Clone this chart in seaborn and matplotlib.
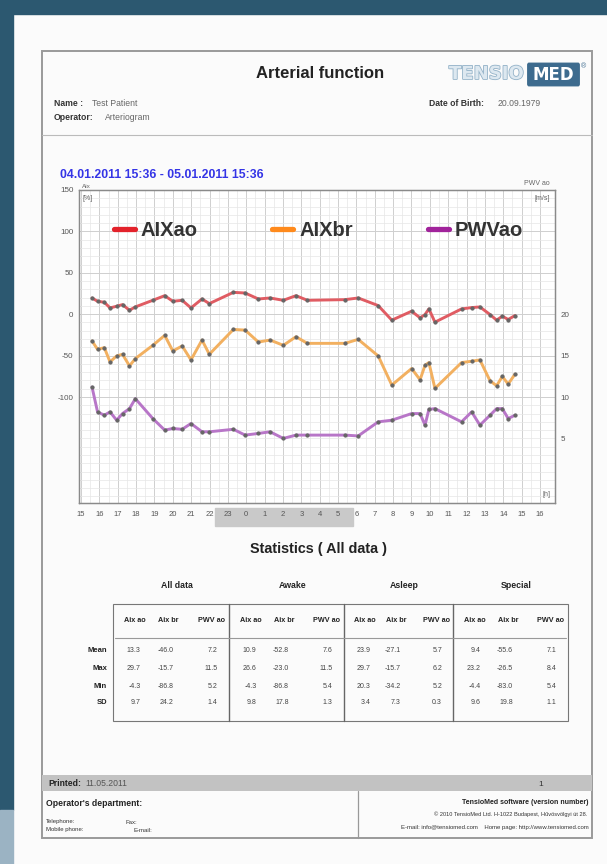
import matplotlib
matplotlib.use("Agg")
import matplotlib.pyplot as plt
import matplotlib.patheffects as pe
import seaborn as sns
import pandas as pd
from matplotlib.patches import Rectangle, FancyBboxPatch
from matplotlib.lines import Line2D

# measurement times (hours from midnight of 04.01.2011)
hours = [15.60, 15.90, 16.27, 16.58, 16.94, 17.26, 17.64, 17.96, 18.91, 19.56,
         20.00, 20.51, 20.99, 21.59, 21.99, 23.30, 23.94, 24.66, 25.30, 26.02,
         26.71, 27.33, 29.38, 30.10, 31.19, 31.93, 33.01, 33.47, 33.74, 33.95,
         34.28, 35.73, 36.28, 36.73, 37.28, 37.64, 37.95, 38.27, 38.64]
aix_ao = [19.6, 15.6, 14.4, 7.6, 9.6, 11.6, 4.8, 8.8, 16.8, 22.4,
          15.6, 16.8, 7.6, 18.4, 12.8, 26.4, 25.6, 18.4, 19.6, 16.8,
          22.4, 16.8, 17.6, 19.6, 10.4, -7.2, 3.6, -4.4, -0.4, 6.4,
          -9.6, 6.4, 8.0, 8.8, -0.4, -7.2, -2.4, -6.4, -1.6]
aix_br = [-32.4, -42.4, -40.4, -57.6, -50.4, -48.4, -62.4, -53.6, -37.6, -25.6,
          -44.4, -38.4, -55.2, -31.2, -48.4, -18.4, -19.2, -33.6, -31.2, -37.6,
          -27.2, -35.2, -35.2, -30.4, -50.4, -85.6, -65.6, -79.2, -61.6, -58.4,
          -89.6, -58.4, -56.8, -55.2, -80.4, -86.4, -75.2, -84.4, -72.4]
pwv_ao = [11.2, 8.2, 7.8, 8.2, 7.2, 8.0, 8.6, 9.8, 7.4, 6.0,
          6.2, 6.1, 6.8, 5.8, 5.8, 6.1, 5.4, 5.6, 5.8, 5.0,
          5.4, 5.4, 5.4, 5.3, 7.0, 7.2, 8.0, 8.0, 6.6, 8.5,
          8.6, 7.0, 8.2, 6.6, 7.8, 8.6, 8.6, 7.4, 7.8]
hour_ticks = list(range(15, 41))
night = (22.3, 29.8)

stat_groups = ["All data", "Awake", "Asleep", "Special"]
stat_cols = ["Aix ao", "Aix br", "PWV ao"]
stat_rows = ["Mean", "Max", "Min", "SD"]
stats_all = [[13.3, -46.0, 7.2], [29.7, -15.7, 11.5], [-4.3, -86.8, 5.2], [9.7, 24.2, 1.4]]
stats_awake = [[10.9, -52.8, 7.6], [26.6, -23.0, 11.5], [-4.3, -86.8, 5.4], [9.8, 17.8, 1.3]]
stats_asleep = [[23.9, -27.1, 5.7], [29.7, -15.7, 6.2], [20.3, -34.2, 5.2], [3.4, 7.3, 0.3]]
stats_special = [[9.4, -55.6, 7.1], [23.2, -26.5, 8.4], [-4.4, -83.0, 5.4], [9.6, 19.8, 1.1]]

sns.set_style("white")
plt.rcParams["font.family"] = ["Liberation Sans", "DejaVu Sans"]
plt.rcParams["axes.unicode_minus"] = False

W, H = 607, 864


def fx(px):
    return px / W


def fy(py):
    return 1 - py / H


def rect(fig, x0, y0, x1, y1, **kw):
    fig.add_artist(Rectangle((fx(x0), fy(y1)), (x1 - x0) / W, (y1 - y0) / H,
                             transform=fig.transFigure, **kw))


def hline(fig, x0, x1, y, **kw):
    fig.add_artist(Line2D([fx(x0), fx(x1)], [fy(y), fy(y)], transform=fig.transFigure, **kw))


def vline(fig, x, y0, y1, **kw):
    fig.add_artist(Line2D([fx(x), fx(x)], [fy(y0), fy(y1)], transform=fig.transFigure, **kw))


def txt(fig, x, y, s, **kw):
    kw.setdefault("va", "center")
    return fig.text(fx(x), fy(y), s, **kw)


fig = plt.figure(figsize=(W / 100, H / 100), dpi=100, facecolor="#fbfbfb")

# dark frame of the screenshot
rect(fig, 0, 0, 607, 14, color="#2c5870", zorder=0)
rect(fig, 0, 0, 13, 810, color="#2c5870", zorder=0)
rect(fig, 0, 810, 13, 864, color="#9bb3c3", zorder=0)

# page border
rect(fig, 42, 51, 592, 838, fill=False, ec="#9a9a9a", lw=1.4, zorder=1)

# header
txt(fig, 320, 74, "Arterial function", ha="center", fontsize=12, fontweight="bold", color="#222")
t = txt(fig, 449, 74, "TENSIO", ha="left", fontsize=13, fontweight="bold", color="#dde8f0",
        family="DejaVu Sans")
t.set_path_effects([pe.withStroke(linewidth=1.2, foreground="#93b2c8")])
fig.add_artist(FancyBboxPatch((fx(529), fy(84)), 49 / W, 19 / H, boxstyle="round,pad=0.002",
                              transform=fig.transFigure, color="#3d6b8e"))
txt(fig, 553.5, 74.5, "MED", ha="center", fontsize=12, fontweight="bold", color="white",
    family="DejaVu Sans")
txt(fig, 581, 67, "®", ha="left", fontsize=5, color="#3d6b8e")
txt(fig, 54, 104, "Name :", fontsize=6.2, fontweight="bold", color="#333")
txt(fig, 92, 104, "Test Patient", fontsize=6.2, color="#666")
txt(fig, 54, 118, "Operator:", fontsize=6.2, fontweight="bold", color="#333")
txt(fig, 105, 118, "Arteriogram", fontsize=6.2, color="#666")
txt(fig, 429, 104, "Date of Birth:", fontsize=6.2, fontweight="bold", color="#333")
txt(fig, 498, 104, "20.09.1979", fontsize=6.2, color="#666")
hline(fig, 42, 592, 135, color="#bbbbbb", lw=0.8)

txt(fig, 60, 175, "04.01.2011 15:36 - 05.01.2011 15:36", fontsize=8.8,
    fontweight="bold", color="#3434e6")

# chart
ax_l, ax_r, ax_t, ax_b = 79, 555, 190, 503
ax = fig.add_axes([fx(ax_l), fy(ax_b), (ax_r - ax_l) / W, (ax_b - ax_t) / H])
ylo, yhi = -228, 150
ax.set_xlim(14.89, 40.82)
ax.set_ylim(ylo, yhi)

df = pd.DataFrame({"hour": hours, "AIXao": aix_ao, "AIXbr": aix_br, "PWVao": pwv_ao})
mk = dict(marker="o", markersize=2.3, markerfacecolor="#666", markeredgecolor="#666")
sns.lineplot(data=df, x="hour", y="AIXao", ax=ax, color="#e05c63", lw=2.1, **mk)
sns.lineplot(data=df, x="hour", y="AIXbr", ax=ax, color="#f2b060", lw=2.1, **mk)

ax2 = ax.twinx()
ax2.set_ylim(20 + ylo / 10, 20 + yhi / 10)
sns.lineplot(data=df, x="hour", y="PWVao", ax=ax2, color="#b876c8", lw=2.1, **mk)
ax2.set_yticks([5, 10, 15, 20])
ax2.set_ylabel("")

ax.set_xticks(hour_ticks)
ax.set_xticklabels([str(h % 24) for h in hour_ticks])
ax.set_xticks([h + 0.5 for h in hour_ticks[:-1]], minor=True)
ax.set_yticks([-100, -50, 0, 50, 100, 150])
ax.set_yticks(range(-220, 150, 10), minor=True)
ax.grid(which="major", color="#cfcfcf", lw=0.7)
ax.grid(which="minor", color="#e6e6e6", lw=0.5)
ax.set_axisbelow(True)
ax.set_xlabel("")
ax.set_ylabel("")
for a in (ax, ax2):
    for s in a.spines.values():
        s.set_color("#8a8a8a")
        s.set_linewidth(0.9)
    a.tick_params(which="both", length=0, labelsize=5.8, colors="#555", pad=4)
ax.tick_params(axis="x", labelsize=5.5, pad=6)

# night period band behind hour labels
ax.add_patch(Rectangle((night[0], -0.075), night[1] - night[0], 0.06,
                       transform=ax.get_xaxis_transform(), color="#c9c9c9",
                       clip_on=False, zorder=0))

ax.text(0.007, 1.004, "Aix", transform=ax.transAxes, fontsize=4.6, color="#666", va="bottom")
ax.text(0.007, 0.985, "[%]", transform=ax.transAxes, fontsize=5, color="#666", va="top")
ax.text(0.99, 1.008, "PWV ao", transform=ax.transAxes, fontsize=5, color="#666",
        va="bottom", ha="right")
ax.text(0.99, 0.985, "[m/s]", transform=ax.transAxes, fontsize=5, color="#666",
        va="top", ha="right")
ax.text(0.99, 0.015, "[h]", transform=ax.transAxes, fontsize=5, color="#666",
        va="bottom", ha="right")

handles = [Line2D([], [], color=c, lw=3.8) for c in ("#e3222b", "#ff8a1c", "#a1239b")]
ax.legend(handles, ["AIXao", "AIXbr", "PWVao"], loc="center left", bbox_to_anchor=(0.0727, 0.872),
          ncol=3, prop={"size": 14.5, "weight": "bold"}, handlelength=1.05, handletextpad=0.3,
          columnspacing=3.7, frameon=False, borderaxespad=0, borderpad=0)
for tx in ax.get_legend().get_texts():
    tx.set_color("#333")

# statistics table
txt(fig, 319, 549, "Statistics ( All data )", ha="center", fontsize=10.4, fontweight="bold",
    color="#222")
seps = [113, 229, 344, 453, 568]
tt, tb = 604, 721
rect(fig, seps[0], tt, seps[-1], tb, fill=False, ec="#777", lw=0.8)
for sx in seps[1:-1]:
    vline(fig, sx, tt, tb, color="#666", lw=1.0)
hline(fig, seps[0] + 2, seps[-1] - 2, 638, color="#999", lw=0.8)
row_y = [650, 668, 686, 703]
for r, ry in zip(stat_rows, row_y):
    txt(fig, 107, ry, r, ha="right", fontsize=5.5, fontweight="bold", color="#222")
for g, block, x0, x1 in zip(stat_groups, [stats_all, stats_awake, stats_asleep, stats_special],
                            seps[:-1], seps[1:]):
    w = x1 - x0
    txt(fig, x0 + 0.55 * w, 586, g, ha="center", fontsize=6.3, fontweight="bold", color="#222")
    for c, f in zip(stat_cols, [0.19, 0.48, 0.85]):
        txt(fig, x0 + f * w, 620, c, ha="center", fontsize=5.2, fontweight="bold", color="#222")
    for row, ry in zip(block, row_y):
        for v, f in zip(row, [0.24, 0.52, 0.90]):
            txt(fig, x0 + f * w, ry, f"{v:.1f}", ha="right", fontsize=5, color="#444")

# footer
rect(fig, 42, 775, 592, 791, color="#c2c2c2", lw=0)
txt(fig, 48, 783.5, "Printed:", fontsize=6.2, fontweight="bold", color="#222")
txt(fig, 85, 783.5, "11.05.2011", fontsize=6.2, color="#555")
txt(fig, 541, 784, "1", ha="center", fontsize=6, color="#333")
vline(fig, 358, 791, 838, color="#999", lw=0.9)
txt(fig, 46, 803, "Operator's department:", fontsize=6.2, fontweight="bold", color="#222")
txt(fig, 46, 822, "Telephone:", fontsize=4.3, color="#333")
txt(fig, 46, 830, "Mobile phone:", fontsize=4.3, color="#333")
txt(fig, 125, 822, "Fax:", fontsize=4.3, color="#333")
txt(fig, 133, 830, "E-mail:", fontsize=4.3, color="#333")
txt(fig, 589, 803, "TensioMed software (version number)", ha="right", fontsize=5,
    fontweight="bold", color="#222")
txt(fig, 587, 814, "© 2010 TensioMed Ltd. H-1022 Budapest, Hűvösvölgyi út 28.", ha="right",
    fontsize=4.1, color="#333")
txt(fig, 589, 827, "E-mail: info@tensiomed.com    Home page: http://www.tensiomed.com", ha="right",
    fontsize=4.3, color="#333")

fig.savefig("out.png", dpi=100, facecolor=fig.get_facecolor())
